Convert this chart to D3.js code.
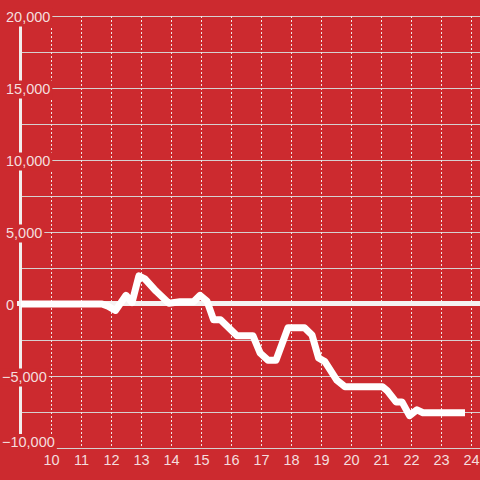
<!DOCTYPE html>
<html>
<head>
<meta charset="utf-8">
<script src="https://cdn.jsdelivr.net/npm/d3@7"></script>
<style>
  html, body { margin: 0; padding: 0; background: #cc2a2f; }
  svg { display: block; font-family: "Liberation Sans", Arial, sans-serif; }
</style>
</head>
<body>
<div id="chart"></div>
<script>
// series
let hours = [9, 11.7, 11.9, 12.15, 12.5, 12.7, 12.93, 13.13, 13.5, 13.93, 14.3, 14.75, 14.97, 15.2, 15.42, 15.65,
  16.2, 16.73, 16.97, 17.23, 17.5, 17.9, 18.45, 18.7, 18.92, 19.13, 19.53, 19.8, 21.05, 21.2, 21.5, 21.7,
  21.95, 22.2, 22.4, 23.8];
let values = [0, 0, -150, -450, 600, 100, 1950, 1750, 900, 50, 150, 150, 600, 200, -1100, -1100,
  -2200, -2200, -3400, -3900, -3900, -1650, -1650, -2150, -3750, -4000, -5300, -5750, -5750, -6000, -6800, -6800,
  -7750, -7350, -7550, -7550];
let xTicks = [10, 11, 12, 13, 14, 15, 16, 17, 18, 19, 20, 21, 22, 23, 24];
let yLabels = [-10000, -5000, 0, 5000, 10000, 15000, 20000];
let yGrid = [-10000, -7500, -5000, -2500, 0, 2500, 5000, 7500, 10000, 12500, 15000, 17500, 20000];

let w = 480;
let h = 480;
let bg = "#cc2a2f";
let textColor = "#f4dede";

let svg = d3.select("#chart")
  .append("svg")
  .attr("width", w)
  .attr("height", h);

let x = d3.scaleLinear().domain([9, 24.3]).range([21, 480]);
let y = d3.scaleLinear().domain([-10000, 20000]).range([448, 16]);

// horizontal grid
svg.append("g")
  .selectAll("line")
  .data(yGrid.filter(d => d !== 0))
  .enter()
  .append("line")
  .attr("x1", 21)
  .attr("x2", w)
  .attr("y1", d => Math.round(y(d)) + 0.5)
  .attr("y2", d => Math.round(y(d)) + 0.5)
  .style("stroke", "#d6d0d0")
  .style("stroke-width", 1);

// vertical dashed grid
svg.append("g")
  .selectAll("line")
  .data(xTicks)
  .enter()
  .append("line")
  .attr("x1", d => x(d) + 0.5)
  .attr("x2", d => x(d) + 0.5)
  .attr("y1", y(20000))
  .attr("y2", y(-10000))
  .style("stroke", "#f0e6e6")
  .style("stroke-width", 1)
  .style("stroke-dasharray", "2,2");

// y axis bar
svg.append("line")
  .attr("x1", 20.5)
  .attr("x2", 20.5)
  .attr("y1", y(20000))
  .attr("y2", y(-10000))
  .style("stroke", "#f2eeee")
  .style("stroke-width", 3);

// zero line
svg.append("line")
  .attr("x1", 17)
  .attr("x2", w)
  .attr("y1", y(0) - 0.5)
  .attr("y2", y(0) - 0.5)
  .style("stroke", "#f5f2f2")
  .style("stroke-width", 5);

// data line
let line = d3.line()
  .x((d, i) => x(hours[i]))
  .y((d) => y(d));

svg.append("path")
  .datum(values)
  .attr("d", line)
  .style("fill", "none")
  .style("stroke", "#ffffff")
  .style("stroke-width", 7)
  .style("stroke-linejoin", "round");

// y labels with background boxes
let yl = svg.append("g")
  .selectAll("g")
  .data(yLabels)
  .enter()
  .append("g");

yl.append("text")
  .attr("x", d => d < 0 ? 2 : 6)
  .attr("y", d => d === -10000 ? y(d) - 1 : y(d) + 5.5)
  .attr("font-size", "14.5px")
  .style("fill", textColor)
  .text(d => d3.format(",")(d));

yl.each(function() {
  let t = d3.select(this).select("text");
  let b = t.node().getBBox();
  d3.select(this).insert("rect", "text")
    .attr("x", b.x - 2)
    .attr("y", b.y)
    .attr("width", b.width + 4)
    .attr("height", b.height + 2)
    .style("fill", bg);
});

// x axis
let xAxis = d3.axisBottom(x)
  .tickValues(xTicks)
  .tickSize(0)
  .tickPadding(0)
  .tickFormat(d3.format("d"));

let gx = svg.append("g")
  .attr("transform", "translate(0, 455)")
  .call(xAxis);

gx.select(".domain").remove();
gx.selectAll("text")
  .attr("font-size", "14.5px")
  .attr("font-family", "Liberation Sans, Arial, sans-serif")
  .style("fill", textColor);
</script>
</body>
</html>
